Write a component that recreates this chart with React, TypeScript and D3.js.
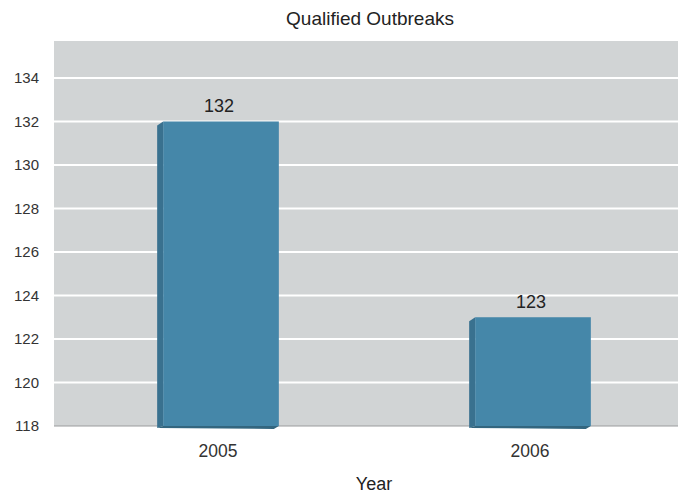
import React from "react";
import * as d3 from "d3";

const years = ["2005", "2006"];
const outbreaks = [132, 123];
const yTicks = [118, 120, 122, 124, 126, 128, 130, 132, 134];

const W = 678;
const H = 493;
const margin = { top: 41, right: 0, bottom: 67, left: 54 };

export default function App() {
  const plotBottom = H - margin.bottom; // 426
  const y = d3.scaleLinear().domain([118, 135.7]).range([plotBottom, margin.top]);
  const x = d3.scaleBand<string>().domain(years).range([62, 686]).paddingInner(0.61).paddingOuter(0.305);
  const depth = 6;

  return (
    <svg width={W} height={H} style={{ position: "absolute", left: 0, top: 0, fontFamily: "'Liberation Sans', Arial, sans-serif" }}>
      <text x={370} y={25} textAnchor="middle" fontSize={19} fill="#222">Qualified Outbreaks</text>
      <rect x={margin.left} y={margin.top} width={W - margin.left} height={plotBottom - margin.top} fill="#d1d4d5" />
      {yTicks.map(t => (
        <g key={t}>
          {t !== 118 && <line x1={margin.left} x2={W} y1={y(t)} y2={y(t)} stroke="#fff" strokeWidth={2} />}
          <text x={39} y={y(t)} dy="0.35em" textAnchor="end" fontSize={15} fill="#333">{t}</text>
        </g>
      ))}
      <line x1={margin.left} x2={W} y1={plotBottom} y2={plotBottom} stroke="#9a9c9d" strokeWidth={1} />
      {years.map((yr, i) => {
        const x0 = (x(yr) as number) + depth;
        const x1 = (x(yr) as number) + x.bandwidth();
        const top = y(outbreaks[i]);
        return (
          <g key={yr}>
            <polygon
              points={`${x0 - depth},${top + 4} ${x0},${top} ${x0},${plotBottom} ${x0 - depth},${plotBottom + 2}`}
              fill="#39718f"
            />
            <polygon
              points={`${x0 - depth},${plotBottom + 2} ${x0},${plotBottom} ${x1},${plotBottom} ${x1 - 5},${plotBottom + 3}`}
              fill="#33667f"
            />
            <rect x={x0} y={top} width={x1 - x0} height={plotBottom - top} fill="#4587a9" />
            <text x={(x0 + x1) / 2 - 2} y={top - 9} textAnchor="middle" fontSize={18} fill="#222">{outbreaks[i]}</text>
            <text x={(x0 + x1) / 2 - 3} y={plotBottom + 31} textAnchor="middle" fontSize={17.5} fill="#333">{yr}</text>
          </g>
        );
      })}
      <text x={374} y={490} textAnchor="middle" fontSize={18} fill="#222">Year</text>
    </svg>
  );
}
